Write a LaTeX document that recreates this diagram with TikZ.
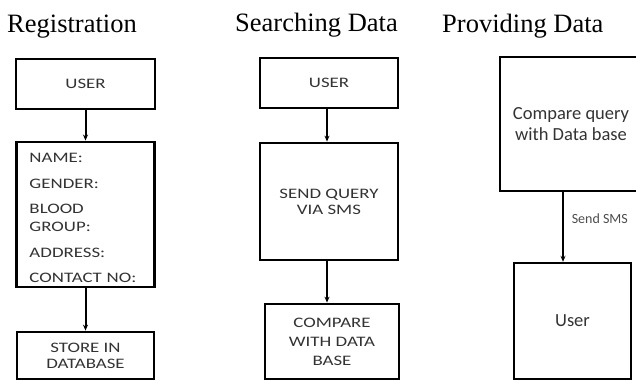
\documentclass[tikz,border=0pt]{standalone}
\usepackage{fontspec}
\setmainfont{Liberation Serif}
\newfontfamily\capsfont[FakeStretch=1.3]{Carlito}
\newfontfamily\labelfont{Carlito}
\usetikzlibrary{arrows.meta}

\begin{document}
\begin{tikzpicture}[x=1bp,y=-1bp,
  box/.style={draw, line width=2.8bp, inner sep=0pt, align=center, text=black!80,
    font=\capsfont\fontsize{14.5bp}{19bp}\selectfont},
  flow/.style={line width=2bp, -{Stealth[length=6bp,width=5bp]}},
  title/.style={anchor=base west, inner sep=0pt, font=\fontsize{26.5bp}{30bp}\selectfont}]
  \useasboundingbox (0,0) rectangle (636,380);
  \clip (0,0) rectangle (636,380);
  % Registration
  \node [title] (reg) at (7,32) {Registration};
  \node [box, minimum width=139bp, minimum height=50bp] (user1) at (85.5,84) {USER};
  \node [box, text width=112bp, inner xsep=13bp, inner ysep=4bp, align=left,
    font=\capsfont\fontsize{14.5bp}{18bp}\selectfont] (form) at (85.5,214.5)
    {\rule{0pt}{17bp}NAME:\\[7.5bp] GENDER:\\[7.5bp] BLOOD\\ GROUP:\\[7.5bp] ADDRESS:\\[7.5bp] CONTACT NO:};
  \node [box, minimum width=137bp, minimum height=47bp] (store) at (85.5,355.5) {STORE IN\\[-3bp]DATABASE};
  \draw [flow] (user1.south) -- (form.north);
  \draw [flow] (form.south) -- (store.north);
  % Searching Data
  \node [title] (search) at (235,31) {Searching Data};
  \node [box, minimum width=138bp, minimum height=50bp] (user2) at (329,83) {USER};
  \node [box, minimum width=138bp, minimum height=117bp] (query) at (329,201.5) {SEND QUERY\\[-3bp]VIA SMS};
  \node [box, minimum width=134bp, minimum height=75bp] (compare) at (332,341.5) {COMPARE\\WITH DATA\\BASE};
  \draw [flow] ([xshift=-2bp]user2.south) -- ([xshift=-2bp]query.north);
  \draw [flow] ([xshift=-2bp]query.south) -- ([xshift=-2bp]query.south |- compare.north);
  % Providing Data
  \node [title] (provide) at (442,32) {Providing Data};
  \node [box, line width=2.4bp, minimum width=142bp, minimum height=134bp,
    font=\labelfont\fontsize{18.5bp}{21bp}\selectfont] (match) at (571,124) {Compare query\\with Data base};
  \node [box, line width=2.4bp, minimum width=117bp, minimum height=116bp,
    font=\labelfont\fontsize{18.5bp}{21bp}\selectfont] (user3) at (572.5,321) {User};
  \draw [flow, line width=1.5bp] ([xshift=-8bp]match.south) -- ([xshift=-8bp]match.south |- user3.north)
    node [pos=0.38, anchor=west, inner sep=0pt, xshift=8bp, text=black!70,
      font=\labelfont\fontsize{14bp}{16bp}\selectfont] {Send SMS};
\end{tikzpicture}
\end{document}
